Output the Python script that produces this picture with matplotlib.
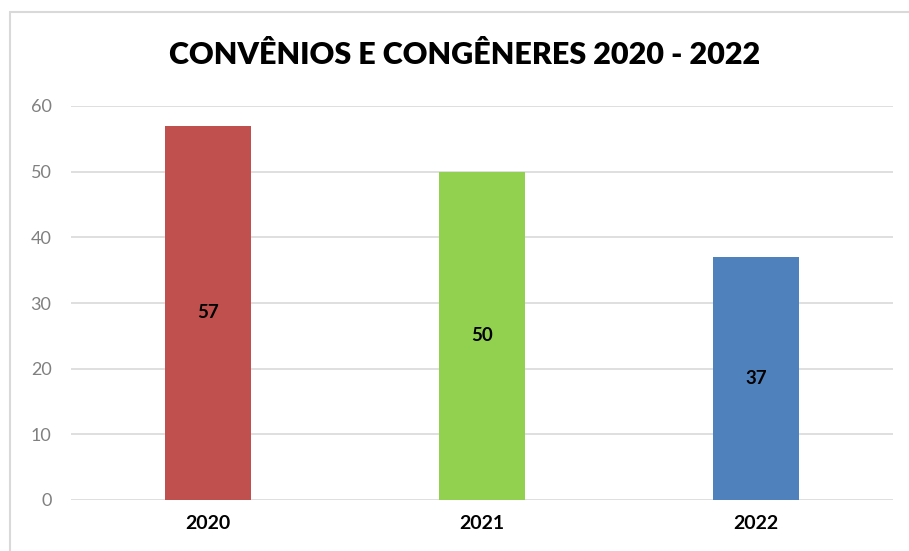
import matplotlib.pyplot as plt
from matplotlib.patches import Rectangle

anos = ['2020', '2021', '2022']
valores = [57, 50, 37]
cores = ['#C0504D', '#92D050', '#4F81BD']
titulo = 'CONVÊNIOS E CONGÊNERES 2020 - 2022'

plt.rcParams['font.family'] = ['Lato', 'DejaVu Sans']

fig = plt.figure(figsize=(9.09, 5.51), dpi=100)
ax = fig.add_axes([71/909, 1-500/551, 822/909, 394/551])

x = range(len(anos))
barras = ax.bar(x, valores, width=0.315, color=cores, zorder=3)
for b, v in zip(barras, valores):
    ax.text(b.get_x() + b.get_width()/2, v/2, str(v), ha='center', va='center',
            fontsize=13.5, fontweight='bold', color='black', zorder=4)

ax.set_xlim(-0.5, 2.5)
ax.set_ylim(0, 60)
ax.set_yticks(range(0, 61, 10))
ax.set_xticks(list(x))
ax.set_xticklabels(anos, fontsize=14, fontweight='bold')
ax.tick_params(axis='y', colors='#808080', labelsize=13, length=0, pad=14)
ax.tick_params(axis='x', length=0, pad=11, labelcolor='black')
ax.grid(axis='y', color='#D9D9D9', linewidth=1.2, zorder=0)
for s in ax.spines.values():
    s.set_visible(False)

fig.text(465/909, 1-55/551, titulo, ha='center', va='center',
         fontsize=22, fontweight='heavy', color='black')

fig.patches.append(Rectangle((10/909, -0.05), 1.0, 1-12/551+0.05, transform=fig.transFigure,
                             fill=False, edgecolor='#D9D9D9', linewidth=1.5))

fig.savefig('out.png')
